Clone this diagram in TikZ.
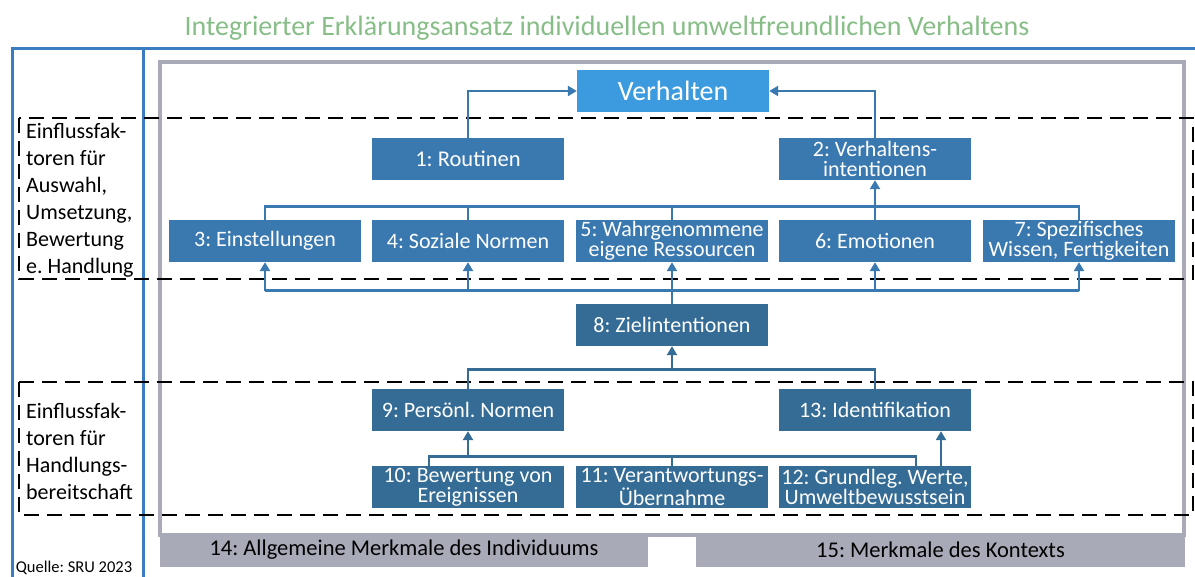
\documentclass[tikz,border=0pt]{standalone}
\usepackage{fontspec}
\setmainfont{Carlito}
\frenchspacing
\usetikzlibrary{arrows.meta}
\definecolor{frameblue}{RGB}{58,125,192}
\definecolor{topblue}{RGB}{60,155,222}
\definecolor{boxblue}{RGB}{58,120,176}
\definecolor{lowblue}{RGB}{52,108,150}
\definecolor{bandgray}{RGB}{168,170,184}
\definecolor{titlegreen}{RGB}{135,190,135}

\begin{document}
\begin{tikzpicture}[x=1pt, y=-1pt, >={Triangle[length=9pt,width=10pt]},
  box/.style={rectangle, fill=boxblue, text=white, minimum width=192pt,
    minimum height=42pt, inner sep=0pt, align=center,
    font=\fontsize{22}{20}\selectfont},
  low box/.style={box, fill=lowblue},
  link/.style={draw=boxblue, line width=2.8pt},
  low link/.style={draw=lowblue, line width=2.8pt},
  band/.style={rectangle, fill=bandgray, minimum height=33pt, inner sep=0pt,
    font=\fontsize{22.5}{24}\selectfont},
  side label/.style={align=left, inner sep=0pt, anchor=north west,
    font=\fontsize{22}{27}\selectfont},
  zone/.style={draw=black, line width=2pt, dash pattern=on 15pt off 8pt}]

\useasboundingbox (0,0) rectangle (1195,577);

\node [font=\fontsize{28}{32}\selectfont, text=titlegreen] (title) at (607,28)
  {Integrierter Erklärungsansatz individuellen umweltfreundlichen Verhaltens};

% Rahmen
\draw [frameblue, line width=3pt] (12,577) -- (12,49) -- (1195,49);
\draw [frameblue, line width=3pt] (143.5,49) -- (143.5,577);
\draw [bandgray, line width=4pt] (160,535) rectangle (1184,62);

\node [band, minimum width=488pt] (individuum) at (404,550)
  {14: Allgemeine Merkmale des Individuums};
\node [band, minimum width=489pt] (kontext) at (940.5,550)
  {15: Merkmale des Kontexts};

% gestrichelte Bereiche
\draw [zone] (19,118) rectangle (1193,279);
\draw [zone] (19,382) rectangle (1193,515);

\node [side label] (label-upper) at (26,123)
  {Einflussfak-\\toren für\\Auswahl,\\Umsetzung,\\Bewertung\\e. Handlung};
\node [side label] (label-lower) at (26,403)
  {Einflussfak-\\toren für\\Handlungs-\\bereitschaft};
\node [font=\fontsize{16.5}{20}\selectfont] (source) at (74,568) {Quelle: SRU 2023};

% Kästen
\node [box, fill=topblue, font=\fontsize{28}{30}\selectfont] (verhalten) at (673,91) {Verhalten};

\node [box, font=\fontsize{22.5}{20}\selectfont] (box-1) at (468,159) {1: Routinen};
\node [box] (box-2) at (875,159) {2: Verhaltens-\\intentionen};

\foreach \x/\l [count=\i from 3] in {265/{3: Einstellungen}, 468/{4: Soziale Normen},
    672/{5: Wahrgenommene\\eigene Ressourcen}, 875/{6: Emotionen},
    1079/{7: Spezifisches\\Wissen, Fertigkeiten}}
  \node [box] (box-\i) at (\x,241) {\l};

\node [low box] (box-8) at (672,325) {8: Zielintentionen};
\node [low box] (box-9) at (468,410) {9: Persönl. Normen};
\node [low box] (box-13) at (875,410) {13: Identifikation};

\foreach \x/\l [count=\i from 10] in {468/{10: Bewertung von\\Ereignissen},
    672/{11: Verantwortungs-\\Übernahme}, 875/{12: Grundleg. Werte,\\Umweltbewusstsein}}
  \node [low box] (box-\i) at (\x,487) {\l};

% Verbindungen
\draw [link, ->] (box-1.north) |- (verhalten.west);
\draw [link, ->] (box-2.north) |- (verhalten.east);

\path (box-3.north) ++(0,-13) coordinate (join);
\draw [link] (box-3.north) -- (join) -| (box-7.north);
\foreach \i in {4,5}
  \draw [link] (box-\i.north) -- (join -| box-\i);
\draw [link, ->] (box-6.north) -- (box-2.south);

\path (box-8.north) ++(0,-13) coordinate (fan);
\draw [link] (box-8.north) -- (fan);
\draw [link] (fan -| box-3) -- (fan -| box-7);
\foreach \i in {3,...,7}
  \draw [link, ->] (fan -| box-\i) -- (box-\i.south);

\path (box-9.north) ++(0,-19) coordinate (meet);
\draw [low link] (box-9.north) -- (meet) -| (box-13.north);
\draw [low link, ->] (meet -| box-8) -- (box-8.south);

\path ([xshift=-39pt]box-10.north) ++(0,-9) coordinate (base);
\draw [low link] ([xshift=-39pt]box-10.north) -- (base) -| ([xshift=41pt]box-12.north);
\draw [low link] (box-11.north) -- (base -| box-11);
\draw [low link, ->] (base -| box-9) -- (box-9.south);
\draw [low link, ->] ([xshift=66pt]box-12.north) -- ([xshift=66pt]box-13.south);

\end{tikzpicture}
\end{document}
